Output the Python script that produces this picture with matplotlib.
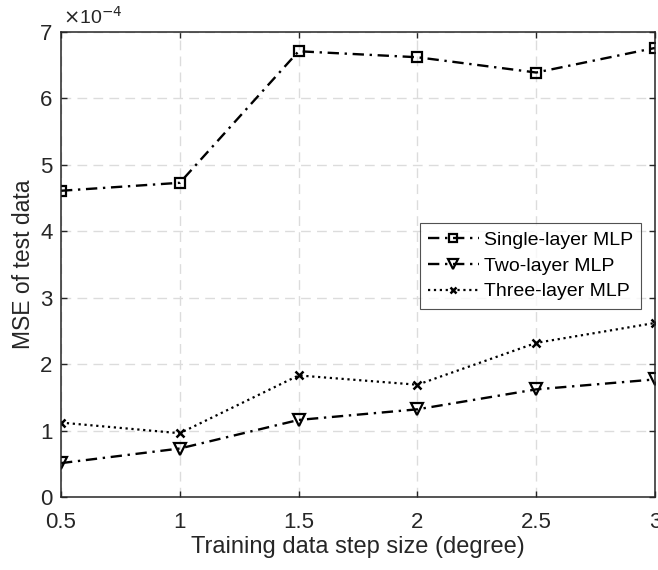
import matplotlib
matplotlib.use("Agg")
import matplotlib.pyplot as plt

plt.rcParams['font.family'] = ['Liberation Sans', 'DejaVu Sans']

# data (MSE in units of 1e-4)
step_size = [0.5, 1, 1.5, 2, 2.5, 3]
single_layer = [4.61, 4.73, 6.71, 6.62, 6.39, 6.76]
two_layer = [0.51, 0.73, 1.16, 1.32, 1.62, 1.77]
three_layer = [1.12, 0.96, 1.83, 1.69, 2.32, 2.62]
xtick_labels = ['0.5', '1', '1.5', '2', '2.5', '3']

fig = plt.figure(figsize=(6.58, 5.7), dpi=100)
ax = fig.add_axes([61 / 658, 1 - 497 / 570, (655 - 61) / 658, (497 - 32) / 570])

dashdot = (0, (4.8, 2.4, 1, 2.4))
ax.plot(step_size, single_layer, linestyle=dashdot, color='k', lw=1.7,
        marker='s', ms=7, mfc='none', mew=1.6, label='Single-layer MLP')
ax.plot(step_size, two_layer, linestyle=dashdot, color='k', lw=1.7,
        marker='v', ms=9, mfc='none', mew=1.6, label='Two-layer MLP')
ax.plot(step_size, three_layer, linestyle=':', color='k', lw=1.6,
        marker='x', ms=6, mew=1.8, label='Three-layer MLP')

ax.set_xlim(0.5, 3)
ax.set_ylim(0, 7)
ax.set_xticks(step_size)
ax.set_xticklabels(xtick_labels)
ax.set_yticks(range(8))
ax.grid(True, linestyle=(0, (7, 4.5)), color='#dcdcdc', lw=1)
ax.set_axisbelow(True)
ax.tick_params(direction='in', top=True, right=True, labelsize=16,
               colors='#262626', length=4.5, width=1)
ax.tick_params(axis='x', pad=11)
ax.tick_params(axis='y', pad=6)
for sp in ax.spines.values():
    sp.set_color('#262626')
    sp.set_linewidth(1.1)

ax.set_xlabel('Training data step size (degree)', fontsize=17, color='#262626', labelpad=2)
ax.set_ylabel('MSE of test data', fontsize=16.5, color='#262626', labelpad=4)
ax.text(0.003, 1.01, r'$\times$10$^{-4}$', transform=ax.transAxes, fontsize=14,
        color='#262626', ha='left', va='bottom')

leg = ax.legend(loc='upper left', bbox_to_anchor=((420 - 61) / 594, (497 - 223) / 465),
                fontsize=14, frameon=True, fancybox=False, borderpad=0.42,
                labelspacing=0.42, handlelength=2.6, handletextpad=0.25,
                borderaxespad=0, markerscale=0.8)
leg.get_frame().set_edgecolor('#262626')
leg.get_frame().set_linewidth(0.8)

fig.savefig('out.png', dpi=100)
